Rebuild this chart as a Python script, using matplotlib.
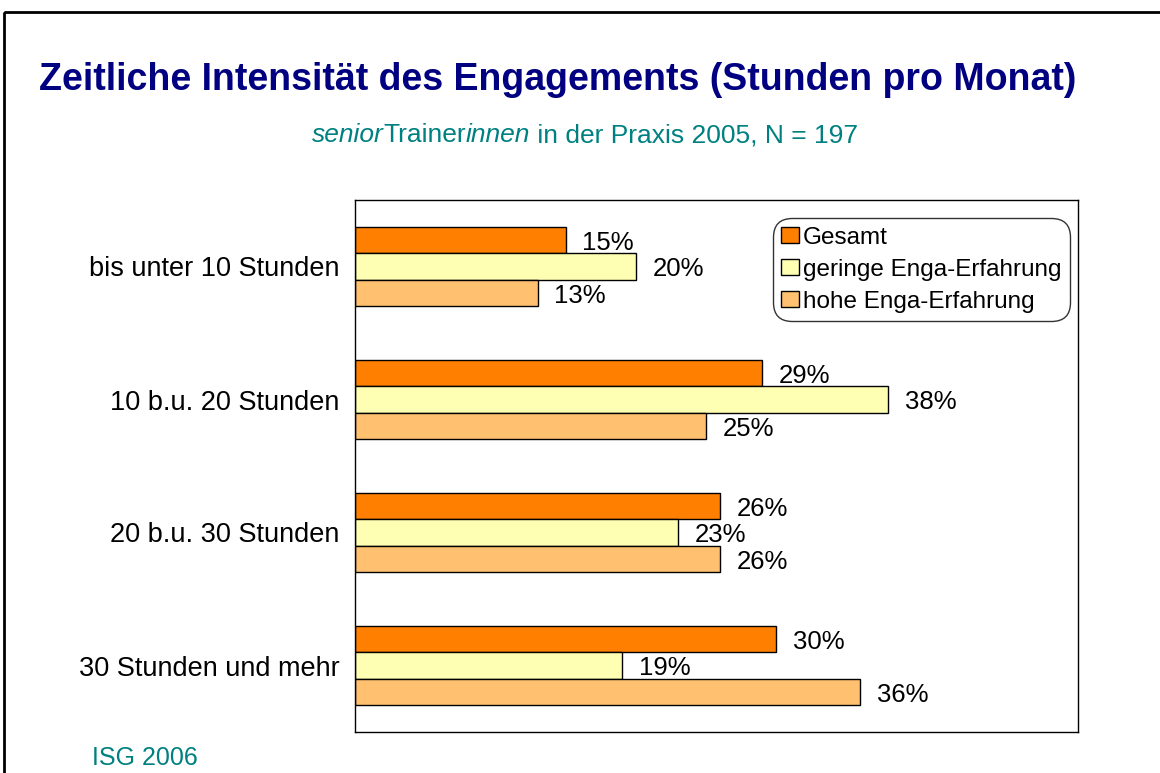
import matplotlib.pyplot as plt
import matplotlib.patches as mpatches
import numpy as np

plt.rcParams['font.family'] = ['Liberation Sans', 'DejaVu Sans']

# Data
categories = ['bis unter 10 Stunden', '10 b.u. 20 Stunden', '20 b.u. 30 Stunden', '30 Stunden und mehr']
series_names = ['Gesamt', 'geringe Enga-Erfahrung', 'hohe Enga-Erfahrung']
gesamt = [15, 29, 26, 30]
geringe = [20, 38, 23, 19]
hohe = [13, 25, 26, 36]
colors = ['#FF8000', '#FFFFB3', '#FFC170']

W, H = 1160, 773
fig = plt.figure(figsize=(W / 100, H / 100), dpi=100)

# frame of the slide
fig.add_artist(mpatches.Rectangle((4 / W, 1 - 12 / H), 2, -2, transform=fig.transFigure,
                                  fill=False, lw=2, ec='black'))

ax = fig.add_axes([355 / W, 1 - 732 / H, (1078 - 355) / W, (732 - 200) / H])

y = np.arange(len(categories))
h = 0.2
for i, (vals, name) in enumerate(zip([gesamt, geringe, hohe], series_names)):
    pos = y + (i - 1) * h
    ax.barh(pos, vals, height=h, color=colors[i], edgecolor='black', lw=1, label=name)
    for p, v in zip(pos, vals):
        ax.text(v + 1.2, p + 0.02, f'{v}%', va='center', ha='left', fontsize=18.5)

ax.set_xlim(0, 51.5)
ax.set_ylim(len(categories) - 0.5, -0.5)
ax.set_yticks(y)
ax.set_yticklabels(categories, fontsize=19.5)
ax.tick_params(axis='y', length=0, pad=11)
ax.set_xticks([])
for s in ax.spines.values():
    s.set_linewidth(1)
    s.set_color('black')

leg = ax.legend(loc='upper right', bbox_to_anchor=(1.0 - 8 / 723, 1 - 18 / 532), fontsize=17.5,
                frameon=True, fancybox=True, edgecolor='black', handlelength=0.75,
                handleheight=0.65, handletextpad=0.15, labelspacing=0.42, borderpad=0.35,
                borderaxespad=0)
leg.get_frame().set_linewidth(1)
leg.get_frame().set_boxstyle('round', pad=0, rounding_size=0.8)

# title
fig.text(558 / W, 1 - 80 / H, 'Zeitliche Intensität des Engagements (Stunden pro Monat)',
         ha='center', va='center', fontsize=27, fontweight='bold', color='#000080')

# subtitle with italic parts
teal = '#008080'
parts = [('senior', 'italic'), ('Trainer', 'normal'), ('innen', 'italic'),
         (' in der Praxis 2005, N = 197', 'normal')]
fig.canvas.draw()
r = fig.canvas.get_renderer()
texts = []
for s, st in parts:
    t = fig.text(0, 1 - 135 / H, s, fontsize=19, style=st, color=teal, va='center', ha='left')
    texts.append(t)
widths = [t.get_window_extent(r).width for t in texts]
x0 = 585 - sum(widths) / 2
for t, w in zip(texts, widths):
    t.set_x(x0 / W)
    x0 += w

fig.text(92 / W, 1 - 758 / H, 'ISG 2006', fontsize=18, color=teal, va='center', ha='left')

fig.savefig('out.png', dpi=100)
